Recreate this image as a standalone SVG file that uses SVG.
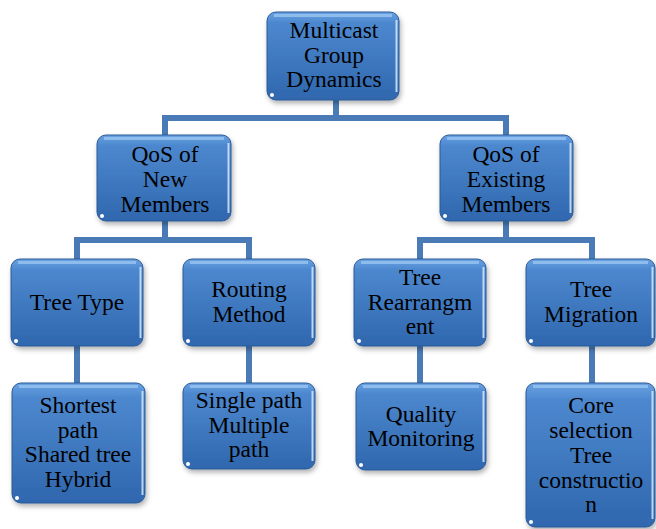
<svg xmlns="http://www.w3.org/2000/svg" width="656" height="529" viewBox="0 0 656 529">
<defs>
<linearGradient id="boxFill" x1="0" y1="0" x2="0" y2="1">
<stop offset="0" stop-color="#69a2e2"/>
<stop offset="0.12" stop-color="#4d88cf"/>
<stop offset="1" stop-color="#2f67ae"/>
</linearGradient>
<filter id="shadow" x="-10%" y="-10%" width="125%" height="125%">
<feDropShadow dx="1.5" dy="3" stdDeviation="2.5" flood-color="#000" flood-opacity="0.3"/>
</filter>
</defs>
<style>
.box{fill:url(#boxFill);stroke:#2b5a96;stroke-width:1;filter:url(#shadow)}
.bevel{fill:none;stroke:#95c2f0;stroke-width:3;stroke-opacity:0.85}
.side{fill:none;stroke:#d5e7fb;stroke-width:2;stroke-opacity:0.85}
.dot{fill:#ffffff}
.lbl{font-family:"Liberation Serif","Times New Roman",serif;font-size:23.5px;fill:#000;text-anchor:middle}
.conn{fill:none;stroke:#4a7bb6;stroke-width:6;stroke-linejoin:miter}
</style>

<g id="connectors">
<path class="conn" d="M336 100 V118"/>
<path class="conn" d="M165 135 V118 H506 V135"/>
<path class="conn" d="M165 221 V240"/>
<path class="conn" d="M77 259 V240 H249 V259"/>
<path class="conn" d="M506 221 V240"/>
<path class="conn" d="M420 259 V240 H592 V259"/>
<path class="conn" d="M77 346 V383"/>
<path class="conn" d="M249 346 V383"/>
<path class="conn" d="M420 346 V383"/>
<path class="conn" d="M592 346 V383"/>
</g>

<g id="root">
<rect class="box" x="267" y="12" width="132" height="88" rx="9"/>
<path class="bevel" d="M274 15.5 H392"/>
<path class="side" d="M396.5 20 V92"/>
<circle class="dot" cx="272" cy="95" r="2"/>
<text class="lbl" x="334" y="38">Multicast</text>
<text class="lbl" x="334" y="63">Group</text>
<text class="lbl" x="334" y="87">Dynamics</text>
</g>

<g id="qos-new">
<rect class="box" x="97" y="135" width="134" height="86" rx="9"/>
<path class="bevel" d="M104 138.5 H224"/>
<path class="side" d="M228.5 143 V213"/>
<circle class="dot" cx="102" cy="216" r="2"/>
<text class="lbl" x="165" y="162">QoS of</text>
<text class="lbl" x="165" y="187">New</text>
<text class="lbl" x="165" y="212">Members</text>
</g>

<g id="qos-existing">
<rect class="box" x="440" y="135" width="133" height="86" rx="9"/>
<path class="bevel" d="M447 138.5 H566"/>
<path class="side" d="M570.5 143 V213"/>
<circle class="dot" cx="445" cy="216" r="2"/>
<text class="lbl" x="506" y="162">QoS of</text>
<text class="lbl" x="506" y="187">Existing</text>
<text class="lbl" x="506" y="212">Members</text>
</g>

<g id="tree-type">
<rect class="box" x="11" y="259" width="132" height="87" rx="9"/>
<path class="bevel" d="M18 262.5 H136"/>
<path class="side" d="M140.5 267 V338"/>
<circle class="dot" cx="16" cy="341" r="2"/>
<text class="lbl" x="77" y="310">Tree Type</text>
</g>

<g id="routing-method">
<rect class="box" x="183" y="259" width="132" height="87" rx="9"/>
<path class="bevel" d="M190 262.5 H308"/>
<path class="side" d="M312.5 267 V338"/>
<circle class="dot" cx="188" cy="341" r="2"/>
<text class="lbl" x="249" y="297">Routing</text>
<text class="lbl" x="249" y="322">Method</text>
</g>

<g id="tree-rearrangement">
<rect class="box" x="354" y="259" width="132" height="87" rx="9"/>
<path class="bevel" d="M361 262.5 H479"/>
<path class="side" d="M483.5 267 V338"/>
<circle class="dot" cx="359" cy="341" r="2"/>
<text class="lbl" x="420" y="285">Tree</text>
<text class="lbl" x="420" y="310">Rearrangm</text>
<text class="lbl" x="420" y="334">ent</text>
</g>

<g id="tree-migration">
<rect class="box" x="526" y="259" width="129" height="87" rx="9"/>
<path class="bevel" d="M533 262.5 H648"/>
<path class="side" d="M652.5 267 V338"/>
<circle class="dot" cx="531" cy="341" r="2"/>
<text class="lbl" x="591" y="297">Tree</text>
<text class="lbl" x="591" y="322">Migration</text>
</g>

<g id="tree-type-items">
<rect class="box" x="12" y="383" width="133" height="120" rx="9"/>
<path class="bevel" d="M19 386.5 H138"/>
<path class="side" d="M142.5 391 V495"/>
<circle class="dot" cx="17" cy="498" r="2"/>
<text class="lbl" x="78" y="413">Shortest</text>
<text class="lbl" x="78" y="438">path</text>
<text class="lbl" x="78" y="462">Shared tree</text>
<text class="lbl" x="78" y="487">Hybrid</text>
</g>

<g id="routing-items">
<rect class="box" x="183" y="383" width="132" height="86" rx="9"/>
<path class="bevel" d="M190 386.5 H308"/>
<path class="side" d="M312.5 391 V461"/>
<circle class="dot" cx="188" cy="464" r="2"/>
<text class="lbl" x="249" y="408">Single path</text>
<text class="lbl" x="249" y="433">Multiple</text>
<text class="lbl" x="249" y="457">path</text>
</g>

<g id="quality-monitoring">
<rect class="box" x="356" y="383" width="130" height="87" rx="9"/>
<path class="bevel" d="M363 386.5 H479"/>
<path class="side" d="M483.5 391 V462"/>
<circle class="dot" cx="361" cy="465" r="2"/>
<text class="lbl" x="421" y="422">Quality</text>
<text class="lbl" x="421" y="446">Monitoring</text>
</g>

<g id="migration-items">
<rect class="box" x="526" y="383" width="129" height="144" rx="9"/>
<path class="bevel" d="M533 386.5 H648"/>
<path class="side" d="M652.5 391 V519"/>
<circle class="dot" cx="531" cy="522" r="2"/>
<text class="lbl" x="591" y="413">Core</text>
<text class="lbl" x="591" y="438">selection</text>
<text class="lbl" x="591" y="463">Tree</text>
<text class="lbl" x="591" y="488">constructio</text>
<text class="lbl" x="591" y="512">n</text>
</g>
</svg>
